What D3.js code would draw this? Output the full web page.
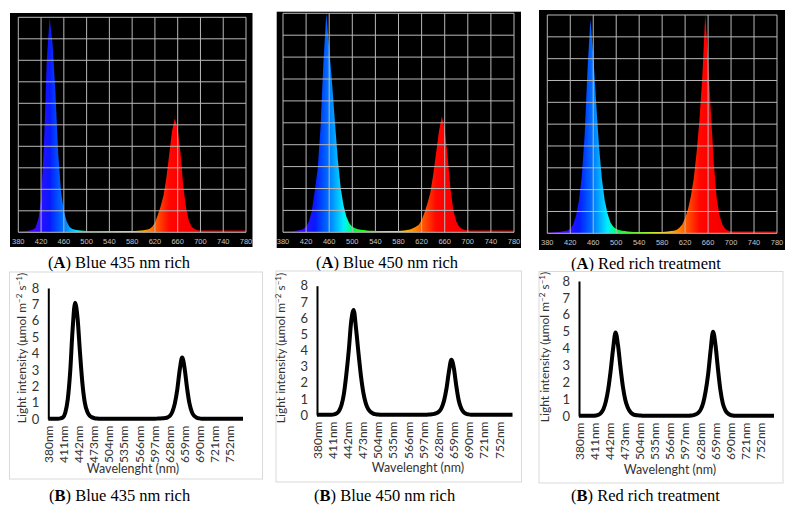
<!DOCTYPE html>
<html><head><meta charset="utf-8">
<script src="https://cdn.jsdelivr.net/npm/d3@7"></script>
<style>body{margin:0;background:#fff}</style></head>
<body><svg id="c" width="794" height="509" xmlns="http://www.w3.org/2000/svg"></svg>
<script>
// ---------- DATA ----------
const wavelengths = [
380,385,390,395,400,405,410,415,420,425,
430,435,440,445,450,455,460,465,470,475,
480,485,490,495,500,505,510,515,520,525,
530,535,540,545,550,555,560,565,570,575,
580,585,590,595,600,605,610,615,620,625,
630,635,640,645,650,655,660,665,670,675,
680,685,690,695,700,705,710,715,720,725,
730,735,740,745,750,755,760,765,770,775,
780];

// (A) spectrometer screenshots, relative intensity (0..1 of full scale)
const spec435 = [
0.004,0.005,0.005,0.006,0.008,0.012,0.02,0.06,0.15,0.4,
0.8,1.0,0.88,0.66,0.37,0.19,0.1,0.05,0.025,0.015,
0.012,0.01,0.008,0.007,0.006,0.006,0.006,0.006,0.006,0.006,
0.006,0.006,0.006,0.006,0.006,0.006,0.006,0.006,0.006,0.006,
0.006,0.006,0.007,0.008,0.01,0.012,0.015,0.025,0.045,0.08,
0.12,0.17,0.25,0.36,0.47,0.53,0.48,0.37,0.21,0.11,
0.05,0.025,0.015,0.01,0.008,0.008,0.008,0.008,0.008,0.008,
0.008,0.008,0.008,0.008,0.008,0.008,0.008,0.008,0.008,0.008,
0.008];
const spec450 = [
0.004,0.004,0.005,0.005,0.006,0.008,0.01,0.015,0.025,0.05,
0.1,0.19,0.29,0.48,0.78,1.0,0.84,0.68,0.5,0.33,
0.2,0.12,0.07,0.04,0.025,0.018,0.014,0.012,0.01,0.008,
0.007,0.007,0.006,0.006,0.006,0.006,0.006,0.006,0.006,0.006,
0.006,0.007,0.008,0.01,0.013,0.018,0.025,0.035,0.055,0.09,
0.13,0.18,0.26,0.36,0.46,0.53,0.47,0.35,0.2,0.1,
0.05,0.025,0.015,0.01,0.008,0.008,0.008,0.008,0.008,0.008,
0.008,0.008,0.008,0.008,0.008,0.008,0.008,0.008,0.008,0.008,
0.008];
const specRed = [
0.004,0.004,0.005,0.005,0.006,0.008,0.01,0.013,0.02,0.04,
0.08,0.15,0.26,0.45,0.75,0.98,0.82,0.6,0.4,0.25,
0.15,0.09,0.05,0.03,0.02,0.015,0.012,0.01,0.008,0.007,
0.006,0.006,0.006,0.006,0.006,0.006,0.006,0.006,0.006,0.006,
0.006,0.007,0.008,0.01,0.012,0.015,0.025,0.04,0.07,0.11,
0.17,0.25,0.37,0.52,0.72,1.0,0.8,0.55,0.32,0.16,
0.08,0.04,0.02,0.012,0.008,0.008,0.008,0.008,0.008,0.008,
0.008,0.008,0.008,0.008,0.008,0.008,0.008,0.008,0.008,0.008,
0.008];

// (B) light intensity (µmol m-2 s-1)
const int435 = [
0.02,0.02,0.02,0.02,0.02,0.04,0.1,0.4,1.2,2.9,
5.5,7.1,6.2,4.1,2.2,1.0,0.45,0.2,0.1,0.05,
0.03,0.02,0.02,0.02,0.02,0.02,0.02,0.02,0.02,0.02,
0.02,0.02,0.02,0.02,0.02,0.02,0.02,0.02,0.02,0.02,
0.02,0.02,0.02,0.02,0.02,0.025,0.03,0.04,0.06,0.1,
0.2,0.45,0.95,1.8,3.0,3.75,3.1,1.9,0.95,0.42,
0.18,0.08,0.04,0.02,0.02,0.02,0.02,0.02,0.02,0.02,
0.02,0.02,0.02,0.02,0.02,0.02,0.02,0.02,0.02,0.02,
0.02];
const int450 = [
0.02,0.02,0.02,0.02,0.02,0.02,0.02,0.04,0.1,0.25,
0.6,1.3,2.5,4.0,5.8,6.5,5.3,3.8,2.4,1.35,
0.7,0.35,0.18,0.09,0.05,0.03,0.02,0.02,0.02,0.02,
0.02,0.02,0.02,0.02,0.02,0.02,0.02,0.02,0.02,0.02,
0.02,0.02,0.02,0.02,0.02,0.02,0.03,0.04,0.07,0.12,
0.22,0.45,0.9,1.65,2.7,3.42,2.9,1.8,0.9,0.42,
0.18,0.08,0.04,0.02,0.02,0.02,0.02,0.02,0.02,0.02,
0.02,0.02,0.02,0.02,0.02,0.02,0.02,0.02,0.02,0.02,
0.02];
const intRed = [
0.02,0.02,0.02,0.02,0.02,0.02,0.02,0.03,0.07,0.18,
0.4,0.85,1.6,2.7,4.0,4.95,4.2,2.9,1.75,0.95,
0.5,0.25,0.12,0.06,0.04,0.03,0.02,0.02,0.02,0.02,
0.02,0.02,0.02,0.02,0.02,0.02,0.02,0.02,0.02,0.02,
0.02,0.02,0.02,0.02,0.02,0.02,0.03,0.05,0.1,0.2,
0.4,0.8,1.5,2.5,3.9,5.0,4.2,2.8,1.55,0.75,
0.35,0.16,0.07,0.03,0.02,0.02,0.02,0.02,0.02,0.02,
0.02,0.02,0.02,0.02,0.02,0.02,0.02,0.02,0.02,0.02,
0.02];

const topTicks = [380,420,460,500,540,580,620,660,700,740,780];
const bottomXTicks = [380,411,442,473,504,535,566,597,628,659,690,721,752];
const bottomYTicks = [0,1,2,3,4,5,6,7,8];
const captionNames = ["Blue 435 nm rich","Blue 450 nm rich","Red rich treatment"];

// spectrum colour ramp (wavelength -> colour)
const spectrumStops = [
[380,"#6a00b0"],[400,"#5000ff"],[420,"#2a10ff"],[435,"#0a18ff"],[445,"#0040ff"],
[455,"#0064ff"],[465,"#0090ff"],[475,"#00c0ff"],[485,"#00eeff"],[495,"#00ff99"],
[505,"#00ff30"],[530,"#40ff00"],[560,"#b0ff00"],[580,"#ffe000"],[600,"#ffa000"],
[615,"#ff7000"],[630,"#ff3c00"],[645,"#ff0800"],[660,"#ff0000"],[780,"#d00000"]];

// ---------- DRAW ----------
const svg = d3.select("#c");
const defs = svg.append("defs");
svg.append("rect").attr("width",794).attr("height",509).attr("fill","#fff");

function caption(x, y, letter, name){
  const t = svg.append("text").attr("x",x).attr("y",y)
    .attr("font-family","'Liberation Serif','Times New Roman',serif").attr("font-size",16.5).attr("fill","#000");
  t.append("tspan").text("(");
  t.append("tspan").attr("font-weight","bold").text(letter);
  t.append("tspan").text(") " + name);
}

const topPanels = [
  {spec: spec435, bg:[10,13,252.5,247], grid:[18.3,246,17.3,232.3], cap:[48,267.5]},
  {spec: spec450, bg:[276.7,11.7,521,248], grid:[283,514,13.3,232.3], cap:[316,267.5]},
  {spec: specRed, bg:[539,10,785,250], grid:[547.3,777,15,233.3], cap:[571,268.5]}
];

topPanels.forEach((p,i)=>{
  const g = svg.append("g");
  g.append("rect").attr("x",p.bg[0]).attr("y",p.bg[1])
    .attr("width",p.bg[2]-p.bg[0]).attr("height",p.bg[3]-p.bg[1]).attr("fill","#000");
  const x = d3.scaleLinear().domain([380,780]).range([p.grid[0],p.grid[1]]);
  const y = d3.scaleLinear().domain([0,1]).range([p.grid[3],p.grid[2]]);
  const gid = "specgrad"+i;
  const lg = defs.append("linearGradient").attr("id",gid).attr("gradientUnits","userSpaceOnUse")
    .attr("x1",x(380)).attr("x2",x(780)).attr("y1",0).attr("y2",0);
  spectrumStops.forEach(s=>lg.append("stop").attr("offset",(s[0]-380)/400).attr("stop-color",s[1]));
  const area = d3.area().x((d,j)=>x(wavelengths[j])).y0(y(0)).y1(d=>y(d)).curve(d3.curveLinear);
  g.append("path").datum(p.spec).attr("d",area).attr("fill",`url(#${gid})`);
  // grid
  g.selectAll("line.v").data(topTicks).join("line").attr("class","v")
    .attr("x1",d=>x(d)).attr("x2",d=>x(d)).attr("y1",y(1)).attr("y2",y(0))
    .attr("stroke","#b8b8b8").attr("stroke-width",1);
  g.selectAll("line.h").data(y.ticks(10)).join("line").attr("class","h")
    .attr("x1",x(380)).attr("x2",x(780)).attr("y1",d=>y(d)).attr("y2",d=>y(d))
    .attr("stroke","#b8b8b8").attr("stroke-width",1);
  g.selectAll("text.t").data(topTicks).join("text").attr("class","t")
    .attr("x",d=>x(d)).attr("y",y(0)+11.5).attr("text-anchor","middle")
    .attr("font-family","'Liberation Sans',Arial,sans-serif").attr("font-size",7.5)
    .attr("fill","#c4c4c4").text(d=>String(d));
  caption(p.cap[0], p.cap[1], "A", captionNames[i]);
});

const bottomPanels = [
  {vals:int435, box:[9.5,272,262.5,479], xr:[48.3,243], yr:[419,288], yTitle:[22,348], xTitle:[133,473], cap:[49,501]},
  {vals:int450, box:[276,271,521.5,482], xr:[317,512.5], yr:[415,285.7], yTitle:[281,348], xTitle:[418,472], cap:[314,501]},
  {vals:intRed, box:[539,271.5,783,483], xr:[579,774], yr:[416,281], yTitle:[545,347], xTitle:[670,474], cap:[571,501]}
];
const sans = "Lato,'Open Sans',sans-serif";

bottomPanels.forEach((p,i)=>{
  const g = svg.append("g");
  g.append("rect").attr("x",p.box[0]).attr("y",p.box[1])
    .attr("width",p.box[2]-p.box[0]).attr("height",p.box[3]-p.box[1])
    .attr("fill","#fff").attr("stroke","#d9d9d9").attr("stroke-width",1);
  const x = d3.scaleLinear().domain([380,780]).range(p.xr);
  const y = d3.scaleLinear().domain([0,8]).range(p.yr);

  // y axis
  const ya = g.append("g").attr("transform",`translate(${p.xr[0]},0)`)
    .call(d3.axisLeft(y).tickValues(bottomYTicks).tickSize(0).tickPadding(9).tickFormat(d3.format("d")));
  ya.select(".domain").attr("stroke","#000").attr("stroke-width",2);
  ya.selectAll("text").attr("font-family",sans).attr("font-size",13).attr("fill","#333");

  // x axis labels (rotated)
  const xa = g.append("g").attr("transform",`translate(0,${p.yr[0]})`)
    .call(d3.axisBottom(x).tickValues(bottomXTicks).tickSize(0).tickFormat(d=>d+"nm"));
  xa.select(".domain").remove();
  xa.selectAll("text").attr("font-family",sans).attr("font-size",12).attr("fill","#333")
    .attr("text-anchor","end").attr("transform","rotate(-90)")
    .attr("x",-6.5).attr("y",0).attr("dy","0.35em");

  // line
  const line = d3.line().x((d,j)=>x(wavelengths[j])).y(d=>y(d)).curve(d3.curveMonotoneX);
  g.append("path").datum(p.vals).attr("d",line).attr("fill","none")
    .attr("stroke","#000").attr("stroke-width",4).attr("stroke-linejoin","round").attr("stroke-linecap","butt");

  // titles
  g.append("text").attr("x",p.xTitle[0]).attr("y",p.xTitle[1]).attr("text-anchor","middle")
    .attr("font-family",sans).attr("font-size",12.5).attr("fill","#333").text("Wavelenght (nm)");
  const yt = g.append("text").attr("transform",`translate(${p.yTitle[0]},${p.yTitle[1]}) rotate(-90)`)
    .attr("text-anchor","middle").attr("dy","0.35em")
    .attr("font-family",sans).attr("font-size",12).attr("fill","#333");
  yt.append("tspan").text("Light intensity (\u03bcmol m");
  yt.append("tspan").attr("font-size",8).attr("dy",-4).text("\u22122");
  yt.append("tspan").attr("dy",4).text(" s");
  yt.append("tspan").attr("font-size",8).attr("dy",-4).text("\u22121");
  yt.append("tspan").attr("dy",4).text(")");

  caption(p.cap[0], p.cap[1], "B", captionNames[i]);
});
</script>
</body></html>
